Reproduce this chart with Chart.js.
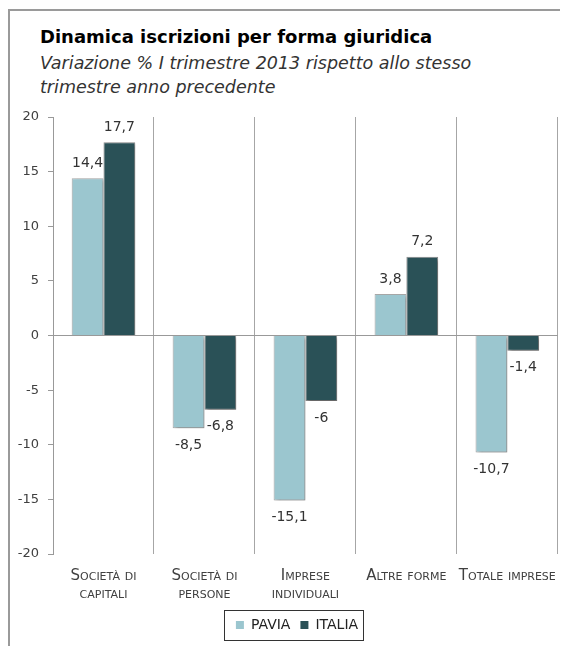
<!DOCTYPE html>
<html>
<head>
<meta charset="utf-8">
<script src="https://cdn.jsdelivr.net/npm/chart.js@4.4.0/dist/chart.umd.min.js"></script>
<style>
  body { margin: 0; background: #fff; width: 570px; height: 646px; overflow: hidden; position: relative; font-family: 'DejaVu Sans', sans-serif; }
  #frame { position: absolute; left: 8px; top: 9px; width: 550px; height: 660px; border-top: 2px solid #9a9a9a; border-left: 2px solid #9a9a9a; }
  #title { position: absolute; left: 40px; top: 26px; font-size: 18px; font-weight: bold; color: #000; white-space: nowrap; }
  #subtitle { position: absolute; left: 40px; top: 51px; font-size: 17.5px; font-style: italic; color: #333; line-height: 24px; white-space: nowrap; }
  #wrap { position: absolute; left: 10px; top: 100px; width: 560px; height: 546px; }
</style>
</head>
<body>
<div id="frame"></div>
<div id="title">Dinamica iscrizioni per forma giuridica</div>
<div id="subtitle">Variazione % I trimestre 2013 rispetto allo stesso<br>trimestre anno precedente</div>
<div id="wrap"><canvas id="chart" width="560" height="546"></canvas></div>
<script>
// categorie e valori
const categories = [
  ['Società di', 'capitali'],
  ['Società di', 'persone'],
  ['Imprese', 'individuali'],
  'Altre forme',
  'Totale imprese'
];
const pavia = [14.4, -8.5, -15.1, 3.8, -10.7];
const italia = [17.7, -6.8, -6, 7.2, -1.4];
const yTicks = [-20, -15, -10, -5, 0, 5, 10, 15, 20];

Chart.defaults.font.family = "'DejaVu Sans', sans-serif";
Chart.defaults.color = '#404040';

// ombra sotto le barre
const barShadow = {
  id: 'barShadow',
  beforeDatasetsDraw(chart) {
    const ctx = chart.ctx;
    ctx.save();
    ctx.shadowColor = 'rgba(0,0,0,0.35)';
    ctx.shadowBlur = 3;
    ctx.shadowOffsetX = 2;
    ctx.shadowOffsetY = 2;
  },
  afterDatasetsDraw(chart) {
    chart.ctx.restore();
  }
};

// etichette dei valori
const valueLabels = {
  id: 'valueLabels',
  afterDatasetsDraw(chart) {
    const ctx = chart.ctx;
    ctx.save();
    ctx.font = "14px 'DejaVu Sans', sans-serif";
    ctx.fillStyle = '#333';
    ctx.textAlign = 'center';
    ctx.textBaseline = 'middle';
    chart.data.datasets.forEach((ds, i) => {
      chart.getDatasetMeta(i).data.forEach((bar, j) => {
        const v = ds.data[j];
        const txt = String(v).replace('.', ',');
        const y = v >= 0 ? bar.y - 15 : bar.y + 17;
        ctx.fillText(txt, bar.x, y);
      });
    });
    ctx.restore();
  }
};

// legenda spostata un po' a destra e incorniciata
const legendBox = {
  id: 'legendBox',
  afterLayout(chart) {
    chart.legend.left += 13;
    chart.legend.right += 13;
  },
  afterDraw(chart) {
    const boxes = chart.legend.legendHitBoxes;
    if (!boxes || !boxes.length) return;
    const left = Math.min(...boxes.map(b => b.left)) - 12;
    const right = Math.max(...boxes.map(b => b.left + b.width)) + 5;
    const top = Math.min(...boxes.map(b => b.top)) - 8;
    const bottom = Math.max(...boxes.map(b => b.top + b.height)) + 8;
    const ctx = chart.ctx;
    ctx.save();
    ctx.strokeStyle = '#333';
    ctx.lineWidth = 1;
    ctx.strokeRect(Math.round(left) + 0.5, Math.round(top) + 0.5, Math.round(right - left), Math.round(bottom - top));
    ctx.restore();
  }
};

new Chart(document.getElementById('chart'), {
  type: 'bar',
  data: {
    labels: categories,
    datasets: [
      {
        label: 'PAVIA',
        data: pavia,
        backgroundColor: '#9bc6cf',
        borderColor: '#a8a8a8',
        borderWidth: 1,
        categoryPercentage: 0.63,
        barPercentage: 1.0
      },
      {
        label: 'ITALIA',
        data: italia,
        backgroundColor: '#2a5157',
        borderColor: '#8a8a8a',
        borderWidth: 1,
        categoryPercentage: 0.63,
        barPercentage: 1.0
      }
    ]
  },
  options: {
    responsive: false,
    animation: false,
    layout: { padding: { top: 17, right: 12, bottom: 4, left: 0 } },
    plugins: {
      title: { display: false },
      tooltip: { enabled: false },
      legend: {
        position: 'bottom',
        labels: {
          boxWidth: 8,
          boxHeight: 8,
          padding: 10,
          color: '#222',
          font: { size: 14 },
          generateLabels(chart) {
            return Chart.defaults.plugins.legend.labels.generateLabels(chart)
              .map(item => Object.assign(item, { lineWidth: 0, strokeStyle: 'transparent' }));
          }
        }
      }
    },
    scales: {
      x: {
        grid: { color: '#a6a6a6', drawTicks: false, offset: true },
        border: { display: false },
        ticks: {
          color: '#404040',
          font: { size: 15, weight: 'small-caps', lineHeight: 1.2 },
          maxRotation: 0,
          autoSkip: false,
          padding: 13
        },
        afterFit(scale) { scale.height = 54; }
      },
      y: {
        min: -20,
        max: 20,
        afterBuildTicks(scale) { scale.ticks = yTicks.map(v => ({ value: v })); },
        grid: {
          color: c => (c.tick && c.tick.value === 0 ? '#999' : 'transparent'),
          tickColor: '#999',
          tickLength: 5
        },
        border: { display: true, color: '#999' },
        ticks: { color: '#404040', font: { size: 13 }, padding: 9 },
        afterFit(scale) { scale.width = 43; }
      }
    }
  },
  plugins: [barShadow, valueLabels, legendBox]
});
</script>
</body>
</html>
